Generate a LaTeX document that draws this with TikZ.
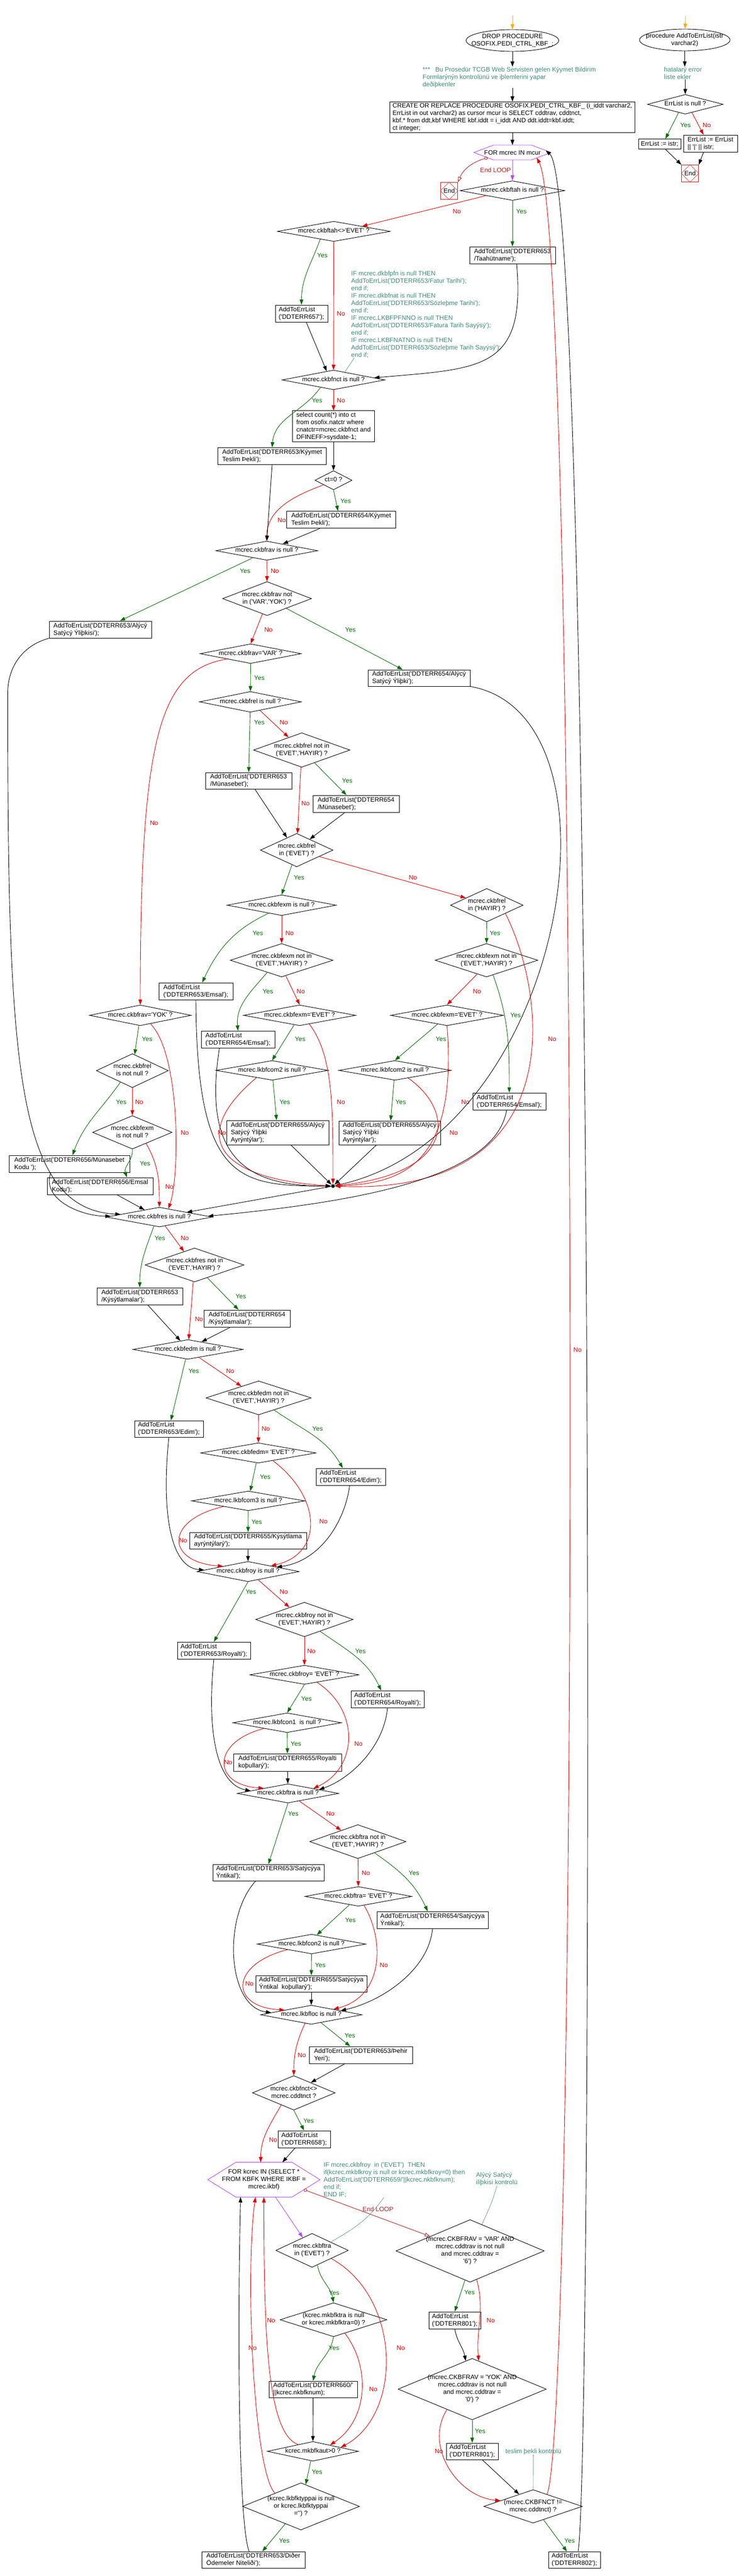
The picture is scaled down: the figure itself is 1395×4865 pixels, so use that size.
\documentclass[tikz,border=0pt]{standalone}
\usepackage{fontspec}
\usepackage{tikz}
\usetikzlibrary{shapes.geometric, arrows.meta, calc}
\newfontfamily\dfont{Liberation Sans}

\definecolor{yesc}{RGB}{0,110,0}
\definecolor{noc}{RGB}{225,0,0}
\definecolor{cmtc}{RGB}{64,140,120}
\definecolor{forc}{RGB}{185,70,255}
\definecolor{endc}{RGB}{178,34,34}
\definecolor{startc}{RGB}{255,170,0}

% centred lines that take no width, so the shape keeps its own size
\newcommand{\dtxt}[1]{\makebox[0pt]{\begin{tabular}{@{}c@{}}#1\end{tabular}}}
% hexagon round a FOR node
\newcommand{\forhex}[2]{\draw[forc] (#1.west) -- ([xshift=#2]#1.north west) -- ([xshift=-#2]#1.north east) -- (#1.east) -- ([xshift=-#2]#1.south east) -- ([xshift=#2]#1.south west) -- cycle;}
% diamond inside a stop box
\newcommand{\stopdia}[1]{\draw[endc, line width=0.6pt] (#1.north) -- (#1.east) -- (#1.south) -- (#1.west) -- cycle;}

\tikzset{
  cond/.style 2 args={diamond, draw, inner sep=0pt, minimum width=#1, minimum height=#2},
  act/.style 2 args={rectangle, draw, align=left, inner sep=2.5pt, minimum width=#1, minimum height=#2},
  forbox/.style 2 args={rectangle, inner sep=0pt, align=center, minimum width=#1, minimum height=#2},
  cmt/.style={text=cmtc, align=left, inner sep=0pt, anchor=north west},
  stopbox/.style={draw=endc, inner sep=0pt, minimum width=32, minimum height=32},
  mdot/.style={circle, fill, inner sep=0pt, minimum size=7pt},
  flow/.style={draw=black, ->},
  yesline/.style={draw=yesc, ->},
  noline/.style={draw=noc, ->},
  forline/.style={draw=forc, ->},
  startline/.style={draw=startc, ->},
  cmtline/.style={draw=cmtc, line width=0.6pt},
  looplast/.style={draw=endc, {Circle[open,length=6pt]}-{Triangle[open,length=10pt,width=7pt]}},
  yeslbl/.style={text=yesc},
  nolbl/.style={text=noc},
  looplbl/.style={text=endc},
}

\begin{document}
\begin{tikzpicture}[x=1pt, y=-1pt, line width=0.9pt, >={Triangle[length=10pt,width=7pt]}, font=\dfont\fontsize{12}{14}\selectfont]
    \path[use as bounding box, fill=white] (0,0) rectangle (1395,4865);

    % Head of the procedure
    \coordinate (s1) at (968,29);
    \node[ellipse, draw, minimum width=175, minimum height=41, inner sep=0pt] (drop) at (968,76.5) {\dtxt{DROP PROCEDURE\\OSOFIX.PEDI\_CTRL\_KBF\_;}};
    \node[cmt] (cmt0) at (798,126) {***\hspace{10pt}Bu Prosedür TCGB Web Servisten gelen Kýymet Bildirim\\Formlarýnýn kontrolünü ve iþlemlerini yapar\\deðiþkenler};
    \node[act={463}{57}] (create) at (968,221.5) {CREATE OR REPLACE PROCEDURE OSOFIX.PEDI\_CTRL\_KBF\_ (i\_iddt varchar2,\\ErrList in out varchar2) as cursor mcur is SELECT cddtrav, cddtnct,\\kbf.* from ddt,kbf WHERE kbf.iddt = i\_iddt AND ddt.iddt=kbf.iddt;\\ct integer;};
    \node[forbox={145}{27}] (forA) at (968,288) {FOR mcrec IN mcur};
    \node[stopbox] (endA) at (848.5,360.5) {End};

    % ckbftah
    \node[cond={198}{37}] (tahNull) at (968,360) {\dtxt{mcrec.ckbftah is null ?}};
    \node[act={162}{32}] (taahut) at (968,482) {AddToErrList('DDTERR653\\/Taahütname');};
    \node[cond={213}{38}] (tahEvet) at (630.5,437) {\dtxt{mcrec.ckbftah<>'EVET' ?}};
    \node[act={99}{32}] (e657) at (569.5,592) {AddToErrList\\('DDTERR657');};
    \node[cmt] (cmt1) at (663,511) {IF mcrec.dkbfpfn is null THEN\\AddToErrList('DDTERR653/Fatur Tarihi');\\end if;\\IF mcrec.dkbfnat is null THEN\\AddToErrList('DDTERR653/Sözleþme Tarihi');\\end if;\\IF mcrec.LKBFPFNNO is null THEN\\AddToErrList('DDTERR653/Fatura Tarih Sayýsý');\\end if;\\IF mcrec.LKBFNATNO is null THEN\\AddToErrList('DDTERR653/Sözleþme Tarih Sayýsý');\\end if;};

    % ckbfnct
    \node[cond={194}{37}] (nctNull) at (630,717.5) {\dtxt{mcrec.ckbfnct is null ?}};
    \node[act={205}{32}] (e653Kt) at (514,861.5) {AddToErrList('DDTERR653/Kýymet\\Teslim Þekli');};
    \node[act={155}{58}] (selCt) at (630,805) {select count(*) into ct\\from osofix.natctr where\\cnatctr=mcrec.ckbfnct and\\DFINEFF>sysdate-1;};
    \node[cond={70}{36}] (ct0) at (630,907) {\dtxt{ct=0 ?}};
    \node[act={206}{32}] (e654Kt) at (644.5,981.5) {AddToErrList('DDTERR654/Kýymet\\Teslim Þekli');};

    % ckbfrav
    \node[cond={193}{36}] (ravNull) at (504,1040) {\dtxt{mcrec.ckbfrav is null ?}};
    \node[act={193}{32}] (e653Al) at (189.5,1189) {AddToErrList('DDTERR653/Alýcý\\Satýcý Ýliþkisi');};
    \node[cond={168}{64}] (ravIn) at (504.5,1130.5) {\dtxt{mcrec.ckbfrav not\\in ('VAR','YOK') ?}};
    \node[act={193}{31}] (e654Al) at (791.5,1280.5) {AddToErrList('DDTERR654/Alýcý\\Satýcý Ýliþki');};
    \node[cond={191}{37}] (ravVar) at (473.5,1234.5) {\dtxt{mcrec.ckbfrav='VAR' ?}};

    % ckbfrel
    \node[cond={192}{39}] (relNull) at (473,1325.5) {\dtxt{mcrec.ckbfrel is null ?}};
    \node[cond={182}{65}] (relIn) at (570,1416.5) {\dtxt{mcrec.ckbfrel not in\\('EVET','HAYIR') ?}};
    \node[act={163}{31}] (e653Mn) at (469.5,1474.5) {AddToErrList('DDTERR653\\/Münasebet');};
    \node[act={163}{32}] (e654Mn) at (672.5,1518) {AddToErrList('DDTERR654\\/Münasebet');};
    \node[cond={137}{63}] (relEvet) at (560.5,1605.5) {\dtxt{mcrec.ckbfrel\\in ('EVET') ?}};
    \node[cond={137}{63}] (relHayir) at (919.5,1709.5) {\dtxt{mcrec.ckbfrel\\in ('HAYIR') ?}};

    % ckbfexm when ckbfrel is EVET
    \node[cond={206}{39}] (exmNull) at (532,1709.5) {\dtxt{mcrec.ckbfexm is null ?}};
    \node[cond={194}{63}] (exmIn) at (532,1813.5) {\dtxt{mcrec.ckbfexm not in\\('EVET','HAYIR') ?}};
    \node[act={140}{32}] (e653Em) at (370,1872) {AddToErrList\\('DDTERR653/Emsal');};
    \node[act={139}{32}] (e654Em) at (449.5,1963) {AddToErrList\\('DDTERR654/Emsal');};
    \node[cond={212}{39}] (exmEvet) at (566,1917.5) {\dtxt{mcrec.ckbfexm='EVET' ?}};
    \node[cond={212}{37}] (com2Null) at (514,2021.5) {\dtxt{mcrec.lkbfcom2 is null ?}};
    \node[act={193}{46}] (e655Al) at (524.5,2139) {AddToErrList('DDTERR655/Alýcý\\Satýcý Ýliþki\\Ayrýntýlar');};

    % ckbfexm when ckbfrel is HAYIR
    \node[cond={194}{63}] (exmInH) at (919,1813.5) {\dtxt{mcrec.ckbfexm not in\\('EVET','HAYIR') ?}};
    \node[cond={213}{39}] (exmEvetH) at (844.5,1917.5) {\dtxt{mcrec.ckbfexm='EVET' ?}};
    \node[act={138}{32}] (e654EmH) at (962,2080) {AddToErrList\\('DDTERR654/Emsal');};
    \node[cond={212}{37}] (com2NullH) at (746,2021.5) {\dtxt{mcrec.lkbfcom2 is null ?}};
    \node[act={192}{45}] (e655AlH) at (736,2139.5) {AddToErrList('DDTERR655/Alýcý\\Satýcý Ýliþki\\Ayrýntýlar');};
    \node[mdot] (mrg1) at (629,2240) {};

    % ckbfrav = YOK
    \node[cond={192}{39}] (ravYok) at (265,1917.5) {\dtxt{mcrec.ckbfrav='YOK' ?}};
    \node[cond={136}{64}] (relNN) at (250,2022) {\dtxt{mcrec.ckbfrel\\is not null ?}};
    \node[act={228}{32}] (e656Mn) at (131,2198) {AddToErrList('DDTERR656/Münasebet\\Kodu ');};
    \node[cond={150}{63}] (exmNN) at (250,2138.5) {\dtxt{mcrec.ckbfexm\\is not null ?}};
    \node[act={200}{32}] (e656Em) at (189,2240) {AddToErrList('DDTERR656/Emsal\\Kodu');};

    % ckbfres
    \node[cond={200}{37}] (resNull) at (301,2298.5) {\dtxt{mcrec.ckbfres is null ?}};
    \node[cond={187}{64}] (resIn) at (367.5,2389) {\dtxt{mcrec.ckbfres not in\\('EVET','HAYIR') ?}};
    \node[act={162}{32}] (e653Ks) at (264,2448) {AddToErrList('DDTERR653\\/Kýsýtlamalar');};
    \node[act={163}{32}] (e654Ks) at (466.5,2490) {AddToErrList('DDTERR654\\/Kýsýtlamalar');};

    % ckbfedm
    \node[cond={208}{37}] (edmNull) at (355,2548.5) {\dtxt{mcrec.ckbfedm is null ?}};
    \node[cond={199}{64}] (edmIn) at (488.5,2640) {\dtxt{mcrec.ckbfedm not in\\('EVET','HAYIR') ?}};
    \node[act={130}{31}] (e653Ed) at (319,2698.5) {AddToErrList\\('DDTERR653/Edim');};
    \node[act={131}{32}] (e654Ed) at (662.5,2789) {AddToErrList\\('DDTERR654/Edim');};
    \node[cond={218}{38}] (edmEvet) at (488,2744) {\dtxt{mcrec.ckbfedm= 'EVET' ?}};
    \node[cond={214}{37}] (com3Null) at (469,2834.5) {\dtxt{mcrec.lkbfcom3 is null ?}};
    \node[act={221}{31}] (e655Ks) at (468.5,2909.5) {AddToErrList('DDTERR655/Kýsýtlama\\ayrýntýlarý');};

    % ckbfroy
    \node[cond={193}{38}] (royNull) at (468.5,2968) {\dtxt{mcrec.ckbfroy is null ?}};
    \node[cond={184}{65}] (royIn) at (575,3058.5) {\dtxt{mcrec.ckbfroy not in\\('EVET','HAYIR') ?}};
    \node[act={138}{32}] (e653Ry) at (404,3117) {AddToErrList\\('DDTERR653/Royalti');};
    \node[act={138}{32}] (e654Ry) at (732,3209) {AddToErrList\\('DDTERR654/Royalti');};
    \node[cond={206}{36}] (royEvet) at (575,3163) {\dtxt{mcrec.ckbfroy= 'EVET' ?}};
    \node[cond={205}{37}] (con1Null) at (542.5,3253.5) {\dtxt{mcrec.lkbfcon1\ \ is null ?}};
    \node[act={204}{33}] (e655Ry) at (543,3328.5) {AddToErrList('DDTERR655/Royalti\\koþullarý');};

    % ckbftra
    \node[cond={192}{36}] (traNull) at (544,3387) {\dtxt{mcrec.ckbftra is null ?}};
    \node[cond={182}{64}] (traIn) at (676,3478) {\dtxt{mcrec.ckbftra not in\\('EVET','HAYIR') ?}};
    \node[act={210}{31}] (e653St) at (507,3536.5) {AddToErrList('DDTERR653/Satýcýya\\Ýntikal');};
    \node[act={210}{32}] (e654St) at (817,3626) {AddToErrList('DDTERR654/Satýcýya\\Ýntikal');};
    \node[cond={202}{37}] (traEvet) at (677,3581.5) {\dtxt{mcrec.ckbftra= 'EVET' ?}};
    \node[cond={205}{37}] (con2Null) at (588.5,3671.5) {\dtxt{mcrec.lkbfcon2 is null ?}};
    \node[act={210}{31}] (e655St) at (588,3746.5) {AddToErrList('DDTERR655/Satýcýya\\Ýntikal\ \ koþullarý');};

    % lkbfloc and ckbfnct
    \node[cond={192}{36}] (locNull) at (588,3805) {\dtxt{mcrec.lkbfloc is null ?}};
    \node[act={195}{32}] (e653Sh) at (681.5,3881) {AddToErrList('DDTERR653/Þehir\\Yeri');};
    \node[cond={156}{65}] (nctDiff) at (555,3952.5) {\dtxt{mcrec.ckbfnct<>\\mcrec.cddtnct ?}};
    \node[act={99}{32}] (e658) at (574.5,4040) {AddToErrList\\('DDTERR658');};

    % loop over KBFK
    \node[forbox={211}{65}] (forB) at (498.5,4116.5) {FOR kcrec IN (SELECT *\\FROM KBFK WHERE IKBF =\\mcrec.ikbf)};
    \node[cmt] (cmt2) at (611,4083) {IF mcrec.ckbfroy\ \ in ('EVET')\ \ THEN\\if(kcrec.mkbfkroy is null or kcrec.mkbfkroy=0) then\\AddToErrList('DDTERR659/'||kcrec.nkbfknum);\\end if;\\END IF;};
    \node[cond={137}{64}] (traInB) at (589.5,4250) {\dtxt{mcrec.ckbftra\\in ('EVET') ?}};
    \node[cond={202}{64}] (ktraNull) at (630,4381) {\dtxt{(kcrec.mkbfktra is null\\or kcrec.mkbfktra=0) ?}};
    \node[act={167}{31}] (e660) at (591.5,4512.5) {AddToErrList('DDTERR660/'\\||kcrec.nkbfknum);};
    \node[cond={172}{37}] (kaut) at (591,4629.5) {\dtxt{kcrec.mkbfkaut>0 ?}};
    \node[cond={221}{89}] (typpai) at (568.5,4733.5) {\dtxt{(kcrec.lkbfktyppai is null\\or kcrec.lkbfktyppai\\='{}') ?}};
    \node[act={195}{31}] (e653Dg) at (478.5,4834.5) {AddToErrList('DDTERR653/Diðer\\Ödemeler Niteliði');};

    % checks after the loop
    \node[cmt] (cmt3) at (899,4102) {Alýcý Satýcý\\iliþkisi kontrolü};
    \node[cond={280}{118}] (ravVarB) at (888,4251) {\dtxt{(mcrec.CKBFRAV = 'VAR' AND\\mcrec.cddtrav is not null\\and mcrec.cddtrav =\\'6') ?}};
    \node[act={98}{32}] (e801a) at (859,4382) {AddToErrList\\('DDTERR801');};
    \node[cond={280}{116}] (ravYokB) at (892,4512) {\dtxt{(mcrec.CKBFRAV = 'YOK' AND\\mcrec.cddtrav is not null\\and mcrec.cddtrav =\\'0') ?}};
    \node[act={98}{31}] (e801b) at (892,4629.5) {AddToErrList\\('DDTERR801');};
    \node[text=cmtc, inner sep=0pt] (cmt4) at (1007.5,4630) {teslim þekli kontrolü};
    \node[cond={186}{63}] (nctNe) at (1007,4733.5) {\dtxt{(mcrec.CKBFNCT !=\\mcrec.cddtnct) ?}};
    \node[act={98}{31}] (e802) at (1085,4834.5) {AddToErrList\\('DDTERR802');};

    % AddToErrList procedure
    \coordinate (s2) at (1295,29);
    \node[ellipse, draw, minimum width=171, minimum height=41, inner sep=0pt] (proc) at (1293.5,75.5) {\dtxt{procedure AddToErrList(istr\\varchar2)}};
    \node[cmt] (cmtR) at (1254,126) {hatalarý error\\liste ekler};
    \node[cond={143}{37}] (elNull) at (1294.5,197) {\dtxt{ErrList is null ?}};
    \node[act={80}{19}] (el1) at (1246,272) {ErrList := istr;};
    \node[act={102}{32}] (el2) at (1342,271) {ErrList := ErrList\\|| '|' || istr;};
    \node[stopbox] (endB) at (1303.5,327.5) {End};

    % Hexagons and End marks
    \forhex{forA}{37}
    \forhex{forB}{53}
    \stopdia{endA}
    \stopdia{endB}

    % Yes labels
    \node[yeslbl] (ly1) at (985,399) {Yes};
    \node[yeslbl] (ly2) at (609,482) {Yes};
    \node[yeslbl] (ly3) at (599,756) {Yes};
    \node[yeslbl] (ly4) at (653,946) {Yes};
    \node[yeslbl] (ly5) at (463,1078) {Yes};
    \node[yeslbl] (ly6) at (662,1189) {Yes};
    \node[yeslbl] (ly7) at (490,1280) {Yes};
    \node[yeslbl] (ly8) at (490,1364) {Yes};
    \node[yeslbl] (ly9) at (656,1474) {Yes};
    \node[yeslbl] (ly10) at (565,1657) {Yes};
    \node[yeslbl] (ly11) at (935,1762) {Yes};
    \node[yeslbl] (ly12) at (487,1762) {Yes};
    \node[yeslbl] (ly13) at (506,1872) {Yes};
    \node[yeslbl] (ly14) at (974,1917) {Yes};
    \node[yeslbl] (ly15) at (567,1962) {Yes};
    \node[yeslbl] (ly16) at (833,1962) {Yes};
    \node[yeslbl] (ly17) at (278,1962) {Yes};
    \node[yeslbl] (ly18) at (538,2081) {Yes};
    \node[yeslbl] (ly19) at (757,2081) {Yes};
    \node[yeslbl] (ly20) at (229,2081) {Yes};
    \node[yeslbl] (ly21) at (274,2197) {Yes};
    \node[yeslbl] (ly22) at (302,2338) {Yes};
    \node[yeslbl] (ly23) at (455,2448) {Yes};
    \node[yeslbl] (ly24) at (366,2589) {Yes};
    \node[yeslbl] (ly25) at (600,2698) {Yes};
    \node[yeslbl] (ly26) at (501,2789) {Yes};
    \node[yeslbl] (ly27) at (485,2874) {Yes};
    \node[yeslbl] (ly28) at (474,3006) {Yes};
    \node[yeslbl] (ly29) at (681,3118) {Yes};
    \node[yeslbl] (ly30) at (579,3208) {Yes};
    \node[yeslbl] (ly31) at (559,3293) {Yes};
    \node[yeslbl] (ly32) at (554,3425) {Yes};
    \node[yeslbl] (ly33) at (782,3537) {Yes};
    \node[yeslbl] (ly34) at (662,3626) {Yes};
    \node[yeslbl] (ly35) at (605,3711) {Yes};
    \node[yeslbl] (ly36) at (661,3844) {Yes};
    \node[yeslbl] (ly37) at (583,4005) {Yes};
    \node[yeslbl] (ly38) at (631,4330) {Yes};
    \node[yeslbl] (ly39) at (631,4434) {Yes};
    \node[yeslbl] (ly40) at (599,4668) {Yes};
    \node[yeslbl] (ly41) at (537,4798) {Yes};
    \node[yeslbl] (ly42) at (887,4329) {Yes};
    \node[yeslbl] (ly43) at (907,4591) {Yes};
    \node[yeslbl] (ly44) at (1076,4798) {Yes};
    \node[yeslbl] (ly45) at (1295,236) {Yes};

    % No labels
    \node[nolbl] (ln1) at (863,399) {No};
    \node[nolbl] (ln2) at (644,592) {No};
    \node[nolbl] (ln3) at (644,756) {No};
    \node[nolbl] (ln4) at (532,982) {No};
    \node[nolbl] (ln5) at (519,1078) {No};
    \node[nolbl] (ln6) at (507,1189) {No};
    \node[nolbl] (ln7) at (291,1554) {No};
    \node[nolbl] (ln8) at (536,1364) {No};
    \node[nolbl] (ln9) at (577,1517) {No};
    \node[nolbl] (ln10) at (780,1657) {No};
    \node[nolbl] (ln11) at (1043,1962) {No};
    \node[nolbl] (ln12) at (547,1762) {No};
    \node[nolbl] (ln13) at (568,1872) {No};
    \node[nolbl] (ln14) at (901,1872) {No};
    \node[nolbl] (ln15) at (644,2081) {No};
    \node[nolbl] (ln16) at (879,2081) {No};
    \node[nolbl] (ln17) at (419,2139) {No};
    \node[nolbl] (ln18) at (857,2139) {No};
    \node[nolbl] (ln19) at (349,2139) {No};
    \node[nolbl] (ln20) at (263,2081) {No};
    \node[nolbl] (ln21) at (320,2241) {No};
    \node[nolbl] (ln22) at (349,2338) {No};
    \node[nolbl] (ln23) at (376,2491) {No};
    \node[nolbl] (ln24) at (435,2589) {No};
    \node[nolbl] (ln25) at (502,2698) {No};
    \node[nolbl] (ln26) at (611,2873) {No};
    \node[nolbl] (ln27) at (346,2909) {No};
    \node[nolbl] (ln28) at (536,3006) {No};
    \node[nolbl] (ln29) at (588,3118) {No};
    \node[nolbl] (ln30) at (677,3293) {No};
    \node[nolbl] (ln31) at (431,3328) {No};
    \node[nolbl] (ln32) at (624,3425) {No};
    \node[nolbl] (ln33) at (691,3537) {No};
    \node[nolbl] (ln34) at (725,3711) {No};
    \node[nolbl] (ln35) at (471,3746) {No};
    \node[nolbl] (ln36) at (570,3881) {No};
    \node[nolbl] (ln37) at (516,4041) {No};
    \node[nolbl] (ln38) at (757,4434) {No};
    \node[nolbl] (ln39) at (705,4512) {No};
    \node[nolbl] (ln40) at (512,4382) {No};
    \node[nolbl] (ln41) at (477,4434) {No};
    \node[nolbl] (ln42) at (927,4382) {No};
    \node[nolbl] (ln43) at (829,4629) {No};
    \node[nolbl] (ln44) at (1091,2549) {No};
    \node[nolbl] (ln45) at (1335,236) {No};
    \node[looplbl] (lel1) at (936,321) {End LOOP};
    \node[looplbl] (lel2) at (714,4172) {End LOOP};

    % Head connectors
    \draw[startline] (s1) -- (drop);
    \draw[flow] (drop) -- (drop.south |- cmt0.north);
    \draw[flow] (create.north |- cmt0.south) -- (create);
    \draw[flow] (create) -- (forA);
    \draw[looplast] ($(forA.west)!.7!([xshift=37]forA.south west)$) to[out=197, in=67] (endA.north east);
    \draw[forline] (forA) -- (tahNull);

    % ckbftah .. ckbfrav
    \draw[yesline] (tahNull) -- (taahut);
    \draw[noline] (tahNull.south west) -- (tahEvet.north east);
    \draw[yesline] (tahEvet.210) to[out=250, in=90] (e657.north);
    \draw[noline] (tahEvet.south) -- (nctNull.north);
    \draw[flow] ([xshift=9]e657.south) -- (nctNull.128);
    \draw[flow] ([xshift=8]taahut.south) to[out=-85, in=5, looseness=1.5] (nctNull.3);
    \draw[cmtline] ([xshift=6]cmt1.south west) -- (nctNull.35);
    \draw[yesline] (nctNull.210) to[out=235, in=85] (e653Kt.north);
    \draw[noline] (nctNull) -- (selCt);
    \draw[flow] (selCt) -- (ct0);
    \draw[yesline] (ct0.south) -- ([xshift=-6]e654Kt.north);
    \draw[noline] (ct0.205) to[out=200, in=90] (ravNull.north);
    \draw[flow] (e653Kt.south) -- (ravNull.north);
    \draw[flow] ([xshift=-40]e654Kt.south) -- (ravNull.23);
    \draw[yesline] (ravNull.207) -- ([xshift=37]e653Al.north);
    \draw[noline] (ravNull) -- (ravIn);
    \draw[noline] (ravIn.253) -- (ravVar.north);
    \draw[yesline] (ravIn.-27) -- ([xshift=-31]e654Al.north);
    \draw[flow] (e653Al.south west) to[out=195, in=90] ++(-78,104) .. controls +(0,690) and +(-200,-10) .. (resNull.176);
    \draw[flow] (e654Al.south east) .. controls +(309,54) and +(441,-98) .. (mrg1);

    % ckbfrel
    \draw[yesline] (ravVar) -- (relNull);
    \draw[noline] (ravVar.193) .. controls +(-130,20) and +(0,-500) .. (ravYok.north);
    \draw[yesline] (relNull) -- (e653Mn);
    \draw[noline] (relNull.-42) -- (relIn.136);
    \draw[yesline] (relIn.-45) -- ([xshift=-18]e654Mn.north);
    \draw[noline] (relIn) -- (relEvet);
    \draw[flow] ([xshift=12]e653Mn.south) -- (relEvet.128);
    \draw[flow] ([xshift=-21]e654Mn.south) -- (relEvet.40);
    \draw[yesline] (relEvet.252) -- (exmNull.north);
    \draw[noline] (relEvet.-16) -- (relHayir.161);

    % ckbfexm, EVET side
    \draw[yesline] (exmNull.212) to[out=205, in=65] ([xshift=12]e653Em.north);
    \draw[noline] (exmNull) -- (exmIn);
    \draw[yesline] (exmIn.220) to[out=230, in=95] (e654Em.north);
    \draw[noline] (exmIn.-75) -- (exmEvet.north);
    \draw[yesline] (exmEvet.240) -- (com2Null.north);
    \draw[noline] (exmEvet.-42) .. controls +(45,60) and +(0,-150) .. (mrg1);
    \draw[yesline] (com2Null) -- (e655Al);
    \draw[noline] (com2Null.205) .. controls +(-125,105) and +(-229,-15) .. (mrg1);
    \draw[flow] ([xshift=25]e655Al.south) -- (mrg1);
    \draw[flow] (e653Em.south) .. controls +(2,342) and +(-180,0) .. (mrg1);
    \draw[flow] ([xshift=-35]e654Em.south) .. controls +(-35,221) and +(-149,0) .. (mrg1);

    % ckbfexm, HAYIR side
    \draw[yesline] (relHayir) -- (exmInH);
    \draw[noline] (relHayir.-24) .. controls +(81,160) and +(447,18) .. (mrg1);
    \draw[yesline] (exmInH.-66) to[out=-70, in=90] (e654EmH.north);
    \draw[noline] (exmInH.236) -- (exmEvetH.north);
    \draw[yesline] (exmEvetH.223) -- (com2NullH.north);
    \draw[noline] (exmEvetH.south) .. controls +(20,263) and +(131,-5) .. (mrg1);
    \draw[yesline] (com2NullH) -- (e655AlH);
    \draw[noline] (com2NullH.-30) .. controls +(90,64) and +(231,-25) .. (mrg1);
    \draw[flow] ([xshift=-25]e655AlH.south) -- (mrg1);
    \draw[flow] ([xshift=-5]e654EmH.south) .. controls +(-22,134) and +(257,-25) .. (resNull.1);
    \draw[flow] (mrg1) -- (resNull.10);

    % ckbfrav = YOK
    \draw[yesline] (ravYok) -- (relNN);
    \draw[noline] (ravYok.-40) .. controls +(57,57) and +(22,-62) .. (resNull.43);
    \draw[yesline] (relNN.224) to[out=235, in=70] ([xshift=6]e656Mn.north);
    \draw[noline] (relNN) -- (exmNN);
    \draw[yesline] (exmNN.south) to[out=-85, in=110] ([xshift=51]e656Em.north);
    \draw[noline] (exmNN.-39) to[out=-60, in=90] (resNull.north);
    \draw[flow] ([xshift=-35]e656Mn.south) to[out=-110, in=180] (resNull.179);
    \draw[flow] ([xshift=32]e656Em.south) -- (resNull.154);

    % ckbfres and ckbfedm
    \draw[yesline] (resNull.239) to[out=-110, in=90] (e653Ks.north);
    \draw[noline] (resNull.-57) -- (resIn.128);
    \draw[yesline] (resIn.-45) -- ([xshift=-16]e654Ks.north);
    \draw[noline] (resIn) -- (edmNull);
    \draw[flow] ([xshift=15]e653Ks.south) -- (edmNull.131);
    \draw[flow] ([xshift=-31]e654Ks.south) -- (edmNull.29);
    \draw[yesline] (edmNull) -- (e653Ed);
    \draw[noline] (edmNull.-36) -- (edmIn.146);
    \draw[yesline] (edmIn.-38) to[out=-35, in=120] ([xshift=-15]e654Ed.north);
    \draw[noline] (edmIn) -- (edmEvet);
    \draw[yesline] (edmEvet) -- (com3Null);
    \draw[noline] (edmEvet.-28) .. controls +(94,71) and +(98,-22) .. (royNull.14);
    \draw[yesline] (com3Null) -- (e655Ks);
    \draw[noline] (com3Null.193) .. controls +(-112,25) and +(-109,-8) .. (royNull.168);
    \draw[flow] (e653Ed.south) .. controls +(-14,136) and +(-66,-5) .. (royNull.178);
    \draw[flow] ([xshift=-2]e654Ed.south) .. controls +(-10,74) and +(78,-10) .. (royNull.9);
    \draw[flow] (e655Ks) -- (royNull);

    % ckbfroy
    \draw[yesline] (royNull.south) -- (e653Ry.north);
    \draw[noline] (royNull.-39) -- (royIn.141);
    \draw[yesline] (royIn.-37) to[out=-35, in=115] ([xshift=-12]e654Ry.north);
    \draw[noline] (royIn) -- (royEvet);
    \draw[yesline] (royEvet.south) -- (con1Null.north);
    \draw[noline] (royEvet.-31) .. controls +(83,54) and +(83,-38) .. (traNull.11);
    \draw[yesline] (con1Null) -- (e655Ry);
    \draw[noline] (con1Null.194) .. controls +(-99,25) and +(-99,-7) .. (traNull.168);
    \draw[flow] (e653Ry.south) .. controls +(-14,137) and +(-64,-12) .. (traNull.176);
    \draw[flow] (e654Ry.south) .. controls +(-7,75) and +(58,-20) .. (traNull.7);
    \draw[flow] (e655Ry) -- (traNull);

    % ckbftra
    \draw[yesline] (traNull.south) -- (e653St.north);
    \draw[noline] (traNull.-34) -- (traIn.146);
    \draw[yesline] (traIn.-34) to[out=-35, in=115] ([xshift=-9]e654St.north);
    \draw[noline] (traIn) -- (traEvet);
    \draw[yesline] (traEvet.223) -- (con2Null.60);
    \draw[noline] (traEvet.-58) .. controls +(38,63) and +(97,-25) .. (locNull.14);
    \draw[yesline] (con2Null) -- (e655St);
    \draw[noline] (con2Null.193) .. controls +(-109,28) and +(-105,-6) .. (locNull.170);
    \draw[flow] ([xshift=-24]e653St.south) .. controls +(-63,68) and +(-83,-11) .. (locNull.177);
    \draw[flow] (e654St.south) .. controls +(-7,78) and +(77,-17) .. (locNull.8);
    \draw[flow] (e655St) -- (locNull);

    % lkbfloc and ckbfnct
    \draw[yesline] (locNull.-39) -- ([xshift=-20]e653Sh.north);
    \draw[noline] (locNull.234) to[out=-115, in=90] (nctDiff.north);
    \draw[flow] ([xshift=-30]e653Sh.south) -- (nctDiff.31);
    \draw[yesline] (nctDiff.south) -- (e658.north);
    \draw[noline] (nctDiff.224) to[out=-120, in=90] ([xshift=-6]forB.north);
    \draw[flow] ([xshift=-17]e658.south) -- ([xshift=35]forB.north);

    % loop over KBFK
    \draw[cmtline] ([xshift=-20]cmt2.south) to[out=-125, in=30] (traInB.24);
    \draw[looplast] ($(forB.east)!.57!([xshift=-53]forB.south east)$) -- (ravVarB.160);
    \draw[forline] ([xshift=22]forB.south) -- (traInB.126);
    \draw[yesline] (traInB.-70) to[out=-80, in=100] (ktraNull.north);
    \draw[noline] (traInB.-23) .. controls +(133,74) and +(117,-63) .. (kaut.8);
    \draw[yesline] (ktraNull.south) to[out=-100, in=80] (e660.north);
    \draw[noline] (ktraNull.-50) .. controls +(49,64) and +(72,-48) .. (kaut.20);
    \draw[flow] (e660) -- (kaut);
    \draw[yesline] (kaut) -- (typpai);
    \draw[noline] (kaut.155) .. controls +(-60,-20) and +(0,250) .. (forB.south);
    \draw[yesline] (typpai.228) -- ([xshift=17]e653Dg.north);
    \draw[noline] (typpai.153) .. controls +(-40,-40) and +(-20,150) .. ([xshift=-16]forB.south);
    \draw[flow] ([xshift=-8]e653Dg.north) .. controls +(-22,-60) and +(-5,200) .. ([xshift=-44]forB.south);

    % checks after the loop
    \draw[cmtline] (cmt3.south) to[out=-105, in=65] (ravVarB.66);
    \draw[yesline] (ravVarB.260) -- (e801a.north);
    \draw[noline] (ravVarB.-77) to[out=-75, in=95] (ravYokB.77);
    \draw[flow] (e801a.south) to[out=-80, in=100] (ravYokB.103);
    \draw[yesline] (ravYokB) -- (e801b);
    \draw[noline] (ravYokB.219) .. controls +(-44,69) and +(-81,-7) .. (nctNe.170);
    \draw[flow] ([xshift=19]e801b.south) -- (nctNe.139);
    \draw[cmtline] (cmt4) -- (nctNe.north);
    \draw[yesline] (nctNe.-52) -- ([xshift=-14]e802.north);
    \draw[noline] (nctNe.41) .. controls +(60,-150) and +(80,150) .. ($(forA.east)!.73!([xshift=-37]forA.south east)$);
    \draw[flow] ([xshift=7]e802.north) .. controls +(28,-150) and +(94,80) .. ($([xshift=-37]forA.north east)!.73!(forA.east)$);

    % AddToErrList procedure
    \draw[startline] (s2) -- (proc);
    \draw[flow] (proc) -- (proc.south |- cmtR.north);
    \draw[flow] (elNull.north |- cmtR.south) -- (elNull);
    \draw[yesline] (elNull.231) -- ([xshift=11]el1.north);
    \draw[noline] (elNull.-51) -- ([xshift=-13]el2.north);
    \draw[flow] ([xshift=11]el1.south) -- (endB.north west);
    \draw[flow] ([xshift=-13]el2.south) -- (endB.north east);
\end{tikzpicture}
\end{document}
